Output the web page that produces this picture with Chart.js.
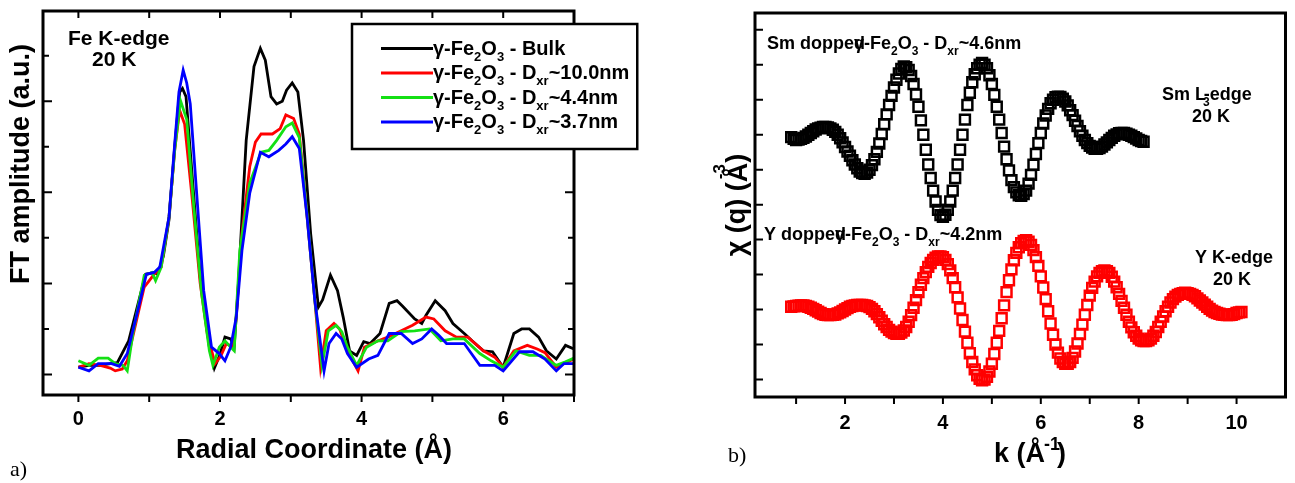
<!DOCTYPE html>
<html>
<head>
<meta charset="utf-8">
<script src="https://cdn.jsdelivr.net/npm/chart.js@4.4.1/dist/chart.umd.min.js"></script>
<style>
  html, body { margin: 0; padding: 0; background: #fff; width: 1295px; height: 483px; overflow: hidden; }
  #panelA { position: absolute; left: 0; top: 0; width: 690px; height: 483px; }
  #panelB { position: absolute; left: 700px; top: 0; width: 595px; height: 483px; }
</style>
</head>
<body>
<div id="panelA"><canvas id="ftChart" width="690" height="483"></canvas></div>
<div id="panelB"><canvas id="chiChart" width="595" height="483"></canvas></div>
<script>
const FONT = '"Liberation Sans", Arial, Helvetica, sans-serif';

/* --- panel a) : Fourier transform, Fe K-edge --- */
const ftTicksX = [0, 1, 2, 3, 4, 5, 6, 7];
const ftTicksY = [0, 0.5, 1, 1.5, 2, 2.5, 3, 3.5];

// [R (Å), FT amplitude]
const bulk = [[0,0.08],[0.15,0.1],[0.3,0.1],[0.45,0.12],[0.55,0.13],[0.71,0.37],[0.88,0.89],[0.95,1.1],[1.07,1.12],[1.12,1.1],
  [1.2,1.3],[1.28,1.7],[1.36,2.5],[1.43,3.1],[1.47,3.14],[1.52,3.05],[1.61,2.15],[1.72,1.07],[1.85,0.3],[1.92,0.07],
  [2.0,0.22],[2.07,0.41],[2.15,0.39],[2.2,0.3],[2.26,1.0],[2.37,2.57],[2.48,3.38],[2.57,3.58],[2.64,3.45],[2.72,3.05],
  [2.8,2.97],[2.88,3.0],[2.94,3.12],[3.02,3.2],[3.1,3.1],[3.18,2.57],[3.28,1.55],[3.39,0.74],[3.45,0.82],[3.56,1.09],
  [3.66,0.92],[3.74,0.63],[3.83,0.26],[3.93,0.21],[4.03,0.36],[4.12,0.34],[4.26,0.45],[4.39,0.78],[4.5,0.81],[4.58,0.75],
  [4.75,0.61],[4.85,0.56],[4.91,0.65],[5.04,0.81],[5.18,0.7],[5.29,0.56],[5.45,0.45],[5.56,0.37],[5.72,0.26],[5.85,0.25],
  [6.0,0.08],[6.15,0.45],[6.26,0.5],[6.37,0.5],[6.5,0.41],[6.61,0.26],[6.75,0.17],[6.88,0.32],[7.0,0.28]];
const d100 = [[0,0.08],[0.15,0.12],[0.31,0.1],[0.45,0.07],[0.52,0.04],[0.62,0.06],[0.69,0.15],[0.82,0.59],[0.93,0.96],[1.07,1.1],
  [1.17,1.18],[1.28,1.73],[1.36,2.46],[1.43,2.9],[1.5,2.75],[1.61,1.91],[1.72,1.0],[1.82,0.45],[1.93,0.12],[2.01,0.2],
  [2.09,0.34],[2.18,0.3],[2.23,0.63],[2.31,1.55],[2.42,2.28],[2.5,2.55],[2.58,2.64],[2.74,2.64],[2.85,2.7],[2.93,2.85],
  [3.04,2.81],[3.12,2.64],[3.23,1.73],[3.34,0.81],[3.42,0.08],[3.5,0.48],[3.61,0.56],[3.69,0.5],[3.8,0.26],[3.95,0.04],
  [4.04,0.3],[4.2,0.36],[4.37,0.41],[4.53,0.47],[4.72,0.54],[4.91,0.63],[5.02,0.61],[5.18,0.48],[5.34,0.41],[5.5,0.41],
  [5.72,0.26],[5.88,0.19],[6.0,0.08],[6.15,0.26],[6.34,0.32],[6.48,0.28],[6.59,0.24],[6.75,0.08],[6.86,0.12],[7.0,0.17]];
const d44 = [[0,0.15],[0.15,0.1],[0.28,0.18],[0.42,0.18],[0.52,0.12],[0.63,0.1],[0.69,0.04],[0.77,0.45],[0.93,1.09],[1.04,1.12],
  [1.09,1.03],[1.17,1.18],[1.28,1.73],[1.36,2.46],[1.44,3.01],[1.53,2.8],[1.63,1.84],[1.74,0.89],[1.85,0.26],[1.9,0.1],
  [1.99,0.3],[2.07,0.37],[2.15,0.3],[2.2,0.26],[2.28,1.36],[2.42,2.1],[2.58,2.44],[2.69,2.46],[2.8,2.57],[2.93,2.72],
  [3.02,2.76],[3.12,2.6],[3.23,1.75],[3.34,0.81],[3.44,0.1],[3.53,0.48],[3.64,0.54],[3.72,0.47],[3.8,0.3],[3.93,0.1],
  [4.07,0.3],[4.23,0.37],[4.37,0.37],[4.56,0.47],[4.75,0.48],[4.96,0.5],[5.12,0.37],[5.29,0.39],[5.45,0.39],[5.67,0.23],
  [5.83,0.15],[6.0,0.08],[6.18,0.26],[6.37,0.21],[6.53,0.21],[6.75,0.1],[6.88,0.14],[7.0,0.18]];
const d37 = [[0,0.08],[0.15,0.04],[0.28,0.12],[0.47,0.12],[0.58,0.09],[0.69,0.23],[0.85,0.74],[0.96,1.1],[1.07,1.12],[1.15,1.18],
  [1.28,1.73],[1.36,2.53],[1.42,3.1],[1.48,3.34],[1.53,3.2],[1.58,2.97],[1.66,2.1],[1.77,0.92],[1.88,0.3],[1.99,0.23],
  [2.07,0.15],[2.15,0.3],[2.23,0.63],[2.31,1.36],[2.42,1.99],[2.57,2.44],[2.69,2.39],[2.83,2.46],[2.93,2.53],[3.02,2.61],
  [3.12,2.48],[3.23,1.73],[3.34,0.81],[3.47,0.04],[3.54,0.34],[3.64,0.45],[3.72,0.39],[3.8,0.23],[3.93,0.08],[4.1,0.17],
  [4.23,0.21],[4.39,0.45],[4.56,0.45],[4.72,0.34],[4.85,0.39],[4.99,0.5],[5.09,0.43],[5.2,0.34],[5.45,0.34],[5.67,0.1],
  [5.88,0.1],[6.0,0.04],[6.23,0.25],[6.42,0.25],[6.59,0.17],[6.75,0.04],[6.86,0.12],[7.0,0.12]];

const ftColors = ['#000000', '#ff0000', '#14e014', '#0000ff'];
const ftLegend = [
  ['γ-Fe', '_2', 'O', '_3', ' - Bulk'],
  ['γ-Fe', '_2', 'O', '_3', ' - D', '_xr', '~10.0nm'],
  ['γ-Fe', '_2', 'O', '_3', ' - D', '_xr', '~4.4nm'],
  ['γ-Fe', '_2', 'O', '_3', ' - D', '_xr', '~3.7nm']
];

/* --- panel b) : EXAFS oscillations --- */
const kTicks = [1, 2, 3, 4, 5, 6, 7, 8, 9, 10];
const chiTicks = [0, 1, 2, 3, 4, 5, 6, 7, 8, 9, 10];

// [k (1/Å), chi (offset, a.u.)]
const smChi = [[0.9,6.93],[0.95,6.88],[1.0,6.85],[1.05,6.86],[1.1,6.88],[1.15,6.91],[1.2,6.95],[1.25,7.0],[1.3,7.05],[1.35,7.1],
  [1.4,7.15],[1.45,7.18],[1.5,7.2],[1.55,7.22],[1.6,7.22],[1.65,7.21],[1.7,7.18],[1.75,7.14],[1.8,7.08],[1.85,7.0],
  [1.9,6.9],[1.95,6.78],[2.0,6.65],[2.05,6.52],[2.1,6.4],[2.15,6.27],[2.2,6.15],[2.25,6.04],[2.3,5.95],[2.35,5.9],
  [2.4,5.88],[2.45,5.92],[2.5,6.0],[2.55,6.13],[2.6,6.3],[2.65,6.51],[2.7,6.75],[2.75,7.02],[2.8,7.3],[2.85,7.58],
  [2.9,7.85],[2.95,8.11],[3.0,8.35],[3.05,8.57],[3.1,8.75],[3.15,8.88],[3.2,8.95],[3.25,8.93],[3.3,8.85],[3.35,8.68],
  [3.4,8.45],[3.45,8.15],[3.5,7.8],[3.55,7.41],[3.6,7.0],[3.65,6.57],[3.7,6.15],[3.75,5.76],[3.8,5.4],[3.85,5.09],
  [3.9,4.85],[3.95,4.7],[4.0,4.65],[4.05,4.71],[4.1,4.85],[4.15,5.09],[4.2,5.4],[4.25,5.76],[4.3,6.15],[4.35,6.57],
  [4.4,7.0],[4.45,7.43],[4.5,7.85],[4.55,8.2],[4.6,8.5],[4.65,8.73],[4.7,8.9],[4.75,9.0],[4.8,9.05],[4.85,9.0],
  [4.9,8.9],[4.95,8.7],[5.0,8.45],[5.05,8.14],[5.1,7.8],[5.15,7.43],[5.2,7.05],[5.25,6.66],[5.3,6.3],[5.35,5.98],
  [5.4,5.7],[5.45,5.5],[5.5,5.35],[5.55,5.27],[5.6,5.25],[5.65,5.3],[5.7,5.4],[5.75,5.6],[5.8,5.85],[5.85,6.14],
  [5.9,6.45],[5.95,6.76],[6.0,7.05],[6.05,7.32],[6.1,7.55],[6.15,7.74],[6.2,7.9],[6.25,8.0],[6.3,8.07],[6.35,8.09],
  [6.4,8.08],[6.45,8.03],[6.5,7.95],[6.55,7.84],[6.6,7.7],[6.65,7.56],[6.7,7.4],[6.75,7.25],[6.8,7.1],[6.85,6.97],
  [6.9,6.85],[6.95,6.76],[7.0,6.68],[7.05,6.63],[7.1,6.6],[7.15,6.6],[7.2,6.62],[7.25,6.66],[7.3,6.72],[7.35,6.78],
  [7.4,6.85],[7.45,6.91],[7.5,6.97],[7.55,7.01],[7.6,7.04],[7.65,7.05],[7.7,7.05],[7.75,7.03],[7.8,7.0],[7.85,6.97],
  [7.9,6.93],[7.95,6.89],[8.0,6.85],[8.05,6.82],[8.1,6.8]];
const yChi = [[0.9,2.08],[0.95,2.09],[1.0,2.1],[1.05,2.11],[1.1,2.12],[1.15,2.12],[1.2,2.1],[1.25,2.08],[1.3,2.05],[1.35,2.02],
  [1.4,1.98],[1.45,1.94],[1.5,1.9],[1.55,1.87],[1.6,1.85],[1.65,1.84],[1.7,1.84],[1.75,1.85],[1.8,1.86],[1.85,1.89],
  [1.9,1.92],[1.95,1.96],[2.0,2.0],[2.05,2.04],[2.1,2.08],[2.15,2.1],[2.2,2.12],[2.25,2.13],[2.3,2.13],[2.35,2.13],
  [2.4,2.12],[2.45,2.1],[2.5,2.07],[2.55,2.02],[2.6,1.95],[2.65,1.87],[2.7,1.78],[2.75,1.68],[2.8,1.58],[2.85,1.5],
  [2.9,1.42],[2.95,1.37],[3.0,1.33],[3.05,1.31],[3.1,1.31],[3.15,1.34],[3.2,1.4],[3.25,1.5],[3.3,1.65],[3.35,1.84],
  [3.4,2.05],[3.45,2.27],[3.5,2.5],[3.55,2.71],[3.6,2.9],[3.65,3.07],[3.7,3.22],[3.75,3.33],[3.8,3.42],[3.85,3.48],
  [3.9,3.52],[3.95,3.52],[4.0,3.5],[4.05,3.42],[4.1,3.3],[4.15,3.12],[4.2,2.9],[4.25,2.64],[4.3,2.35],[4.35,2.03],
  [4.4,1.7],[4.45,1.37],[4.5,1.05],[4.55,0.75],[4.6,0.5],[4.65,0.29],[4.7,0.12],[4.75,0.02],[4.8,-0.02],[4.85,0.0],
  [4.9,0.08],[4.95,0.23],[5.0,0.45],[5.05,0.73],[5.1,1.05],[5.15,1.39],[5.2,1.75],[5.25,2.12],[5.3,2.5],[5.35,2.84],
  [5.4,3.15],[5.45,3.41],[5.5,3.62],[5.55,3.78],[5.6,3.9],[5.65,3.96],[5.7,3.98],[5.75,3.94],[5.8,3.85],[5.85,3.7],
  [5.9,3.5],[5.95,3.25],[6.0,2.95],[6.05,2.63],[6.1,2.3],[6.15,1.95],[6.2,1.6],[6.25,1.28],[6.3,1.0],[6.35,0.77],
  [6.4,0.6],[6.45,0.5],[6.5,0.45],[6.55,0.45],[6.6,0.5],[6.65,0.62],[6.7,0.8],[6.75,1.03],[6.8,1.3],[6.85,1.57],
  [6.9,1.85],[6.95,2.13],[7.0,2.4],[7.05,2.62],[7.1,2.8],[7.15,2.95],[7.2,3.05],[7.25,3.1],[7.3,3.12],[7.35,3.1],
  [7.4,3.05],[7.45,2.94],[7.5,2.8],[7.55,2.64],[7.6,2.45],[7.65,2.25],[7.7,2.05],[7.75,1.85],[7.8,1.65],[7.85,1.49],
  [7.9,1.35],[7.95,1.25],[8.0,1.17],[8.05,1.12],[8.1,1.1],[8.15,1.1],[8.2,1.12],[8.25,1.17],[8.3,1.25],[8.35,1.36],
  [8.4,1.5],[8.45,1.65],[8.5,1.8],[8.55,1.95],[8.6,2.08],[8.65,2.2],[8.7,2.3],[8.75,2.37],[8.8,2.42],[8.85,2.45],
  [8.9,2.47],[8.95,2.48],[9.0,2.47],[9.05,2.45],[9.1,2.42],[9.15,2.38],[9.2,2.32],[9.25,2.26],[9.3,2.2],[9.35,2.14],
  [9.4,2.08],[9.45,2.02],[9.5,1.97],[9.55,1.93],[9.6,1.9],[9.65,1.88],[9.7,1.86],[9.75,1.85],[9.8,1.84],[9.85,1.84],
  [9.9,1.85],[9.95,1.87],[10.0,1.9],[10.05,1.92],[10.1,1.93]];

/* --- text helpers --- */
// parts: 'text' normal, '_x' subscript, '^x' superscript, number = x shift
function rich(ctx, x, y, parts, size) {
  let cx = x;
  parts.forEach(p => {
    if (typeof p === 'number') { cx += p; return; }
    let t = p, dy = 0, f = size;
    if (p[0] === '_') { t = p.slice(1); dy = size * 0.32; f = Math.round(size * 0.66); }
    else if (p[0] === '^') { t = p.slice(1); dy = -size * 0.45; f = Math.round(size * 0.66); }
    ctx.font = 'bold ' + f + 'px ' + FONT;
    ctx.fillText(t, cx, y + dy);
    cx += ctx.measureText(t).width;
  });
  return cx - x;
}

function richWidth(ctx, parts, size) {
  ctx.save();
  ctx.globalAlpha = 0;
  const w = rich(ctx, 0, 0, parts, size);
  ctx.restore();
  return w;
}

function vertical(ctx, cx, cy, parts, size) {
  ctx.save();
  ctx.translate(cx, cy);
  ctx.rotate(-Math.PI / 2);
  ctx.textBaseline = 'middle';
  const w = richWidth(ctx, parts, size);
  rich(ctx, -w / 2, 0, parts, size);
  ctx.restore();
}

function frame(ctx, a) {
  ctx.strokeStyle = '#000';
  ctx.lineWidth = 3;
  ctx.strokeRect(a.left, a.top, a.right - a.left, a.bottom - a.top);
}

/* --- panel a) plugin: frame, ticks, labels, legend --- */
const ftDecor = {
  id: 'ftDecor',
  afterDraw(chart) {
    const { ctx, chartArea: a, scales: { x, y } } = chart;
    ctx.save();
    frame(ctx, a);
    ctx.lineWidth = 2;
    ctx.beginPath();
    ftTicksX.forEach(v => {
      const px = x.getPixelForValue(v);
      ctx.moveTo(px, a.bottom); ctx.lineTo(px, a.bottom + 7);
      ctx.moveTo(px, a.top); ctx.lineTo(px, a.top + 7);
    });
    ftTicksY.forEach(v => {
      const py = y.getPixelForValue(v);
      const len = v % 1 === 0 ? 9 : 6;
      ctx.moveTo(a.left, py); ctx.lineTo(a.left + len, py);
      ctx.moveTo(a.right, py); ctx.lineTo(a.right - len, py);
    });
    ctx.stroke();

    ctx.fillStyle = '#000';
    ctx.textBaseline = 'alphabetic';
    ctx.textAlign = 'left';
    // axis titles
    ctx.font = 'bold 27px ' + FONT;
    ctx.textAlign = 'center';
    ctx.fillText('Radial Coordinate (Å)', 314, 458);
    ctx.textAlign = 'left';
    vertical(ctx, 22, 164, ['FT amplitude (a.u.)'], 27);

    // edge note
    ctx.font = 'bold 21px ' + FONT;
    ctx.fillText('Fe K-edge', 68, 45);
    ctx.fillText('20 K', 92, 66);

    // panel letter
    ctx.font = '22px "Liberation Serif", "Times New Roman", serif';
    ctx.fillText('a)', 10, 476);

    // legend
    const size = 20;
    const lineYs = [48.5, 73, 97.5, 122];
    let maxW = 0;
    ftLegend.forEach(p => { maxW = Math.max(maxW, richWidth(ctx, p, size)); });
    const boxL = 352, boxT = 24, boxR = 433 + maxW + 8, boxB = 149;
    ctx.fillStyle = '#fff';
    ctx.fillRect(boxL, boxT, boxR - boxL, boxB - boxT);
    ctx.strokeStyle = '#000';
    ctx.lineWidth = 2.5;
    ctx.strokeRect(boxL, boxT, boxR - boxL, boxB - boxT);
    ftLegend.forEach((p, i) => {
      ctx.strokeStyle = ftColors[i];
      ctx.lineWidth = 3;
      ctx.beginPath();
      ctx.moveTo(381, lineYs[i]); ctx.lineTo(433, lineYs[i]);
      ctx.stroke();
      ctx.fillStyle = '#000';
      rich(ctx, 433, lineYs[i] + 6, p, size);
    });
    ctx.restore();
  }
};

/* --- panel b) plugin --- */
const chiDecor = {
  id: 'chiDecor',
  afterDraw(chart) {
    const { ctx, chartArea: a, scales: { x, y } } = chart;
    ctx.save();
    frame(ctx, a);
    ctx.lineWidth = 2;
    ctx.beginPath();
    kTicks.forEach(v => {
      const px = x.getPixelForValue(v);
      ctx.moveTo(px, a.bottom); ctx.lineTo(px, a.bottom + 7);
    });
    chiTicks.forEach(v => {
      const py = y.getPixelForValue(v);
      ctx.moveTo(a.left, py); ctx.lineTo(a.left + 8, py);
    });
    ctx.stroke();

    ctx.fillStyle = '#000';
    ctx.textBaseline = 'alphabetic';
    ctx.textAlign = 'left';

    // x title: k (Å^-1)
    const xt = ['k (Å', -1, '^-1', -3, ')'];
    const xw = richWidth(ctx, xt, 27);
    rich(ctx, 330 - xw / 2, 462, xt, 27);

    // y title: chi (q) (Å^-3), superscript sitting over the Å
    ctx.save();
    ctx.translate(38, 205);
    ctx.rotate(-Math.PI / 2);
    ctx.textBaseline = 'middle';
    ctx.font = 'bold 27px ' + FONT;
    const s1 = 'χ (q) (', s2 = 'Å', s3 = ')';
    const w1 = ctx.measureText(s1).width, w2 = ctx.measureText(s2).width, w3 = ctx.measureText(s3).width;
    const sx = -(w1 + w2 + w3) / 2;
    ctx.fillText(s1, sx, 0);
    ctx.fillText(s2, sx + w1, 2);
    ctx.fillText(s3, sx + w1 + w2, 0);
    ctx.font = 'bold 17px ' + FONT;
    ctx.fillText('-3', sx + w1 + 3, -18);
    ctx.restore();

    // sample notes
    const ns = 18;
    rich(ctx, 67, 49, ['Sm dopped', -11, 'γ-Fe', '_2', 'O', '_3', ' - D', '_xr', '~4.6nm'], ns);
    rich(ctx, 64, 240, ['Y dopped', -11, 'γ-Fe', '_2', 'O', '_3', ' - D', '_xr', '~4.2nm'], ns);
    rich(ctx, 462, 100, ['Sm L', -3, '_3', -6, '-edge'], ns);
    rich(ctx, 492, 122, ['20 K'], ns);
    rich(ctx, 495, 263, ['Y K-edge'], ns);
    rich(ctx, 513, 285, ['20 K'], ns);

    ctx.font = '22px "Liberation Serif", "Times New Roman", serif';
    ctx.fillText('b)', 28, 462);
    ctx.restore();
  }
};

const tickFont = { family: FONT, size: 20, weight: 'bold' };

function asPoints(arr) { return arr.map(p => ({ x: p[0], y: p[1] })); }

new Chart(document.getElementById('ftChart'), {
  type: 'scatter',
  data: {
    datasets: [bulk, d100, d44, d37].map((s, i) => ({
      data: asPoints(s),
      showLine: true,
      borderColor: ftColors[i],
      borderWidth: 2.8,
      pointRadius: 0,
      tension: 0,
      order: 4 - i
    }))
  },
  options: {
    responsive: false,
    animation: false,
    devicePixelRatio: 1,
    events: [],
    layout: { padding: { top: 11, right: 116, left: 0, bottom: 0 } },
    plugins: { legend: { display: false }, tooltip: { enabled: false } },
    scales: {
      x: {
        type: 'linear', min: -0.5, max: 7,
        grid: { display: false, drawTicks: false },
        border: { display: false },
        afterBuildTicks: s => { s.ticks = ftTicksX.map(v => ({ value: v })); },
        afterFit: s => { s.height = 88; },
        ticks: { color: '#000', font: tickFont, padding: 12, maxRotation: 0,
          callback: v => (v % 2 === 0 ? String(v) : '') }
      },
      y: {
        type: 'linear', min: -0.225, max: 3.99,
        grid: { display: false, drawTicks: false },
        border: { display: false },
        ticks: { display: false },
        afterFit: s => { s.width = 43; }
      }
    }
  },
  plugins: [ftDecor]
});

new Chart(document.getElementById('chiChart'), {
  type: 'scatter',
  data: {
    datasets: [
      { data: asPoints(smChi), borderColor: '#000', backgroundColor: 'rgba(0,0,0,0)' },
      { data: asPoints(yChi), borderColor: '#ff0000', backgroundColor: 'rgba(0,0,0,0)' }
    ].map(d => Object.assign(d, { pointStyle: 'rect', pointRadius: 7, pointBorderWidth: 2.5, showLine: false }))
  },
  options: {
    responsive: false,
    animation: false,
    devicePixelRatio: 1,
    events: [],
    layout: { padding: { top: 13, right: 4, left: 0, bottom: 0 } },
    plugins: { legend: { display: false }, tooltip: { enabled: false } },
    scales: {
      x: {
        type: 'linear', min: 0.16, max: 11,
        grid: { display: false, drawTicks: false },
        border: { display: false },
        afterBuildTicks: s => { s.ticks = kTicks.map(v => ({ value: v })); },
        afterFit: s => { s.height = 86; },
        ticks: { color: '#000', font: tickFont, padding: 14, maxRotation: 0,
          callback: v => (v % 2 === 0 ? String(v) : '') }
      },
      y: {
        type: 'linear', min: -0.5, max: 10.48,
        grid: { display: false, drawTicks: false },
        border: { display: false },
        ticks: { display: false },
        afterFit: s => { s.width = 55; }
      }
    }
  },
  plugins: [chiDecor]
});
</script>
</body>
</html>
